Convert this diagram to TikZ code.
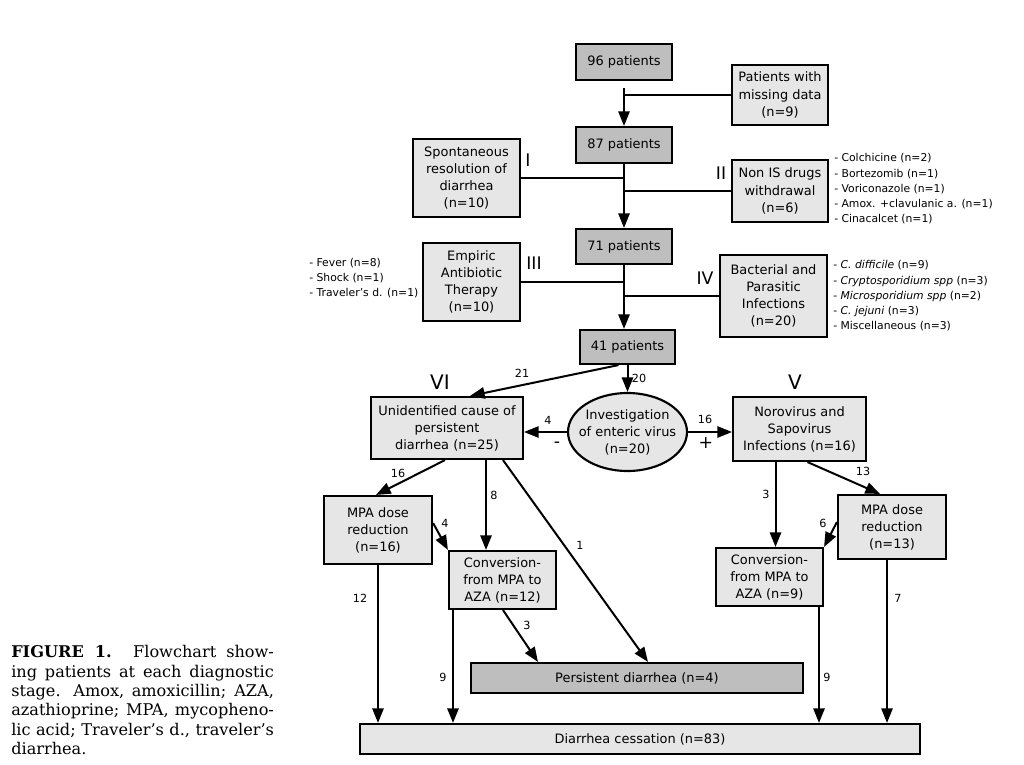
\documentclass[tikz,border=0pt]{standalone}
\usepackage{fontspec}
\newfontfamily\dvsans{DejaVu Sans}
\newfontfamily\dvserif{DejaVu Serif}
\usetikzlibrary{shapes.geometric,arrows.meta,calc}
\definecolor{boxdark}{HTML}{BEBEBE}
\definecolor{boxlight}{HTML}{E6E6E6}
\tikzset{
 basebox/.style={draw=black, line width=1.6pt, align=center, inner sep=0pt, font=\dvsans\fontsize{9.7}{12.8}\selectfont},
 darkbox/.style={basebox, fill=boxdark},
 lightbox/.style={basebox, fill=boxlight},
 conn/.style={line width=1.5pt},
 arr/.style={conn, -{Triangle[length=11pt,width=8.5pt]}},
 lbl/.style={font=\dvsans\fontsize{8.4}{11.4}\selectfont, inner sep=0pt},
 listtxt/.style={font=\dvsans\fontsize{8.1}{11.4}\selectfont, inner sep=0pt, align=left, anchor=west},
 roman/.style={font=\dvsans\fontsize{13}{14}\selectfont, inner sep=0pt},
 bigroman/.style={font=\dvsans\fontsize{15}{16}\selectfont, inner sep=0pt},
}
\begin{document}
\begin{tikzpicture}[x=0.75pt,y=-0.75pt]
\useasboundingbox (0,0) rectangle (1024,764);
\fill[white] (0,0) rectangle (1024,764);

% boxes
\node[darkbox, minimum width=72pt, minimum height=27pt] (p96) at (624,62) {96 patients};
\node[lightbox, minimum width=72pt, minimum height=45pt] (miss) at (780,95) {Patients with\\missing data\\(n=9)};
\node[darkbox, minimum width=72pt, minimum height=27pt] (p87) at (624,145) {87 patients};
\node[lightbox, minimum width=80.25pt, minimum height=58.5pt] (spont) at (466.5,178) {Spontaneous\\resolution of\\diarrhea\\(n=10)};
\node[lightbox, minimum width=72pt, minimum height=46.5pt] (nonis) at (780,191) {Non IS drugs\\withdrawal\\(n=6)};
\node[darkbox, minimum width=72pt, minimum height=26.25pt] (p71) at (624,246.5) {71 patients};
\node[lightbox, minimum width=72.75pt, minimum height=58.5pt] (empiric) at (471.5,282) {Empiric\\Antibiotic\\Therapy\\(n=10)};
\node[lightbox, minimum width=80.25pt, minimum height=61.5pt] (bact) at (773.5,296) {Bacterial and\\Parasitic\\Infections\\(n=20)};
\node[darkbox, minimum width=71.25pt, minimum height=25.5pt] (p41) at (627.5,347) {41 patients};
\node[lightbox, minimum width=114pt, minimum height=46.5pt] (unid) at (447,428) {Unidentified cause of\\persistent\\diarrhea (n=25)};
\node[draw=black, line width=1.6pt, fill=boxlight, ellipse, inner sep=0pt, minimum width=89.25pt, minimum height=58.5pt] (ell) at (627.5,432) {};
\node[basebox, draw=none] (elltext) at (ell.center) {Investigation\\of enteric virus\\(n=20)};
\node[lightbox, minimum width=99.75pt, minimum height=48pt] (noro) at (799.5,429) {Norovirus and\\Sapovirus\\Infections (n=16)};
\node[lightbox, minimum width=81pt, minimum height=51pt] (mpa16) at (378,530) {MPA dose\\reduction\\(n=16)};
\node[lightbox, minimum width=80.25pt, minimum height=43.5pt] (conv12) at (502.5,580) {Conversion-\\from MPA to\\AZA (n=12)};
\node[lightbox, minimum width=80.25pt, minimum height=43.5pt] (conv9) at (769.5,577) {Conversion-\\from MPA to\\AZA (n=9)};
\node[lightbox, minimum width=81pt, minimum height=48pt] (mpa13) at (892,527) {MPA dose\\reduction\\(n=13)};
\node[darkbox, minimum width=249pt, minimum height=22.5pt] (persist) at (637,678) {Persistent diarrhea (n=4)};
\node[lightbox, minimum width=420pt, minimum height=22.5pt] (cess) at (640,739) {Diarrhea cessation (n=83)};

% side lists
\node[listtxt] (listII) at (834,189) {- Colchicine (n=2)\\- Bortezomib (n=1)\\- Voriconazole (n=1)\\- Amox. +clavulanic a. (n=1)\\- Cinacalcet (n=1)};
\node[listtxt] (listIII) at (309,278) {- Fever (n=8)\\- Shock (n=1)\\- Traveler’s d. (n=1)};
\node[listtxt] (listIV) at (833,296) {- \textit{C. difficile} (n=9)\\- \textit{Cryptosporidium spp} (n=3)\\- \textit{Microsporidium spp} (n=2)\\- \textit{C. jejuni} (n=3)\\- Miscellaneous (n=3)};

% roman numerals
\node[roman] (rI) at (528,160) {I};
\node[roman] (rII) at (721,173) {II};
\node[roman] (rIII) at (534,263) {III};
\node[roman] (rIV) at (705,278) {IV};
\node[bigroman] (rVI) at (440,382) {VI};
\node[bigroman] (rV) at (795,382) {V};
\node[roman] (minus) at (557,445) {-};
\node[roman] (plus) at (706,443) {+};

% top connectors
\coordinate (t1) at (624,88);
\draw[arr] (t1) -- (p87.north);
\draw[conn] (miss.west) -- (miss.west -| t1);
\draw[arr] (p87.south) -- (p71.north);
\draw[conn] (spont.east) -- (spont.east -| p87.south);
\draw[conn] (nonis.west) -- (nonis.west -| p87.south);
\draw[arr] (p71.south) -- (p71.south |- p41.north);
\draw[conn] (empiric.east) -- (empiric.east -| p71.south);
\draw[conn] (bact.west) -- (bact.west -| p71.south);

% middle
\draw[arr] ($(p41.south)+(-9,0)$) -- ($(unid.north)+(23,0)$);
\draw[arr] (p41.south) -- (ell.north);
\draw[arr] (ell.west) -- (ell.west -| unid.east);
\draw[arr] (ell.east) -- (ell.east -| noro.west);
\node[lbl] (n21) at (522,373) {21};
\node[lbl] (n20) at (639,378) {20};
\node[lbl] (n4a) at (548,420) {4};
\node[lbl] (n16a) at (705,419) {16};

% lower left
\draw[arr] ($(unid.south)+(-2,0)$) -- ($(mpa16.north)+(-2,0)$);
\draw[arr] ($(unid.south)+(39,0)$) -- ($(conv12.north)+(-16.5,0)$);
\draw[arr] ($(mpa16.east)+(0,-7)$) -- (conv12.north west);
\draw[arr] ($(unid.south)+(56,0)$) -- ($(persist.north)+(11,0)$);
\draw[arr] (mpa16.south) -- (mpa16.south |- cess.north);
\coordinate (c9l) at ($(conv12.south)+(-49.5,0)$);
\draw[arr] (c9l) -- (c9l |- cess.north);
\draw[arr] ($(conv12.south)+(0.5,0)$) -- ($(persist.north)+(-99,0)$);
\node[lbl] (n16b) at (398,473) {16};
\node[lbl] (n8) at (494,495) {8};
\node[lbl] (n4b) at (445,523) {4};
\node[lbl] (n1) at (580,545) {1};
\node[lbl] (n12) at (360,598) {12};
\node[lbl] (n9l) at (443,677) {9};
\node[lbl] (n3l) at (527,625) {3};

% lower right
\coordinate (c3r) at ($(noro.south)+(-24,0)$);
\draw[arr] (c3r) -- (c3r |- conv9.north);
\draw[arr] ($(noro.south)+(8,0)$) -- ($(mpa13.north)+(-12,0)$);
\draw[arr] ($(mpa13.west)+(0,-5)$) -- (conv9.north east);
\coordinate (c7) at ($(mpa13.south)+(-5,0)$);
\draw[arr] (c7) -- (c7 |- cess.north);
\coordinate (c9r) at ($(conv9.south)+(49.5,0)$);
\draw[arr] (c9r) -- (c9r |- cess.north);
\node[lbl] (n3r) at (766,494) {3};
\node[lbl] (n13) at (863,471) {13};
\node[lbl] (n6) at (823,523) {6};
\node[lbl] (n7) at (898,598) {7};
\node[lbl] (n9r) at (827,677) {9};

% caption
\node[anchor=north west, inner sep=0pt, align=left, font=\dvserif\fontsize{12.1}{14.6}\selectfont] (cap) at (11,645)
{\makebox[197pt][s]{\textbf{FIGURE 1.} Flowchart show-}\\
\makebox[197pt][s]{ing patients at each diagnostic}\\
\makebox[197pt][s]{stage. Amox, amoxicillin; AZA,}\\
\makebox[197pt][s]{azathioprine; MPA, mycopheno-}\\
\makebox[197pt][s]{lic acid; Traveler’s d., traveler’s}\\
diarrhea.};
\end{tikzpicture}
\end{document}
